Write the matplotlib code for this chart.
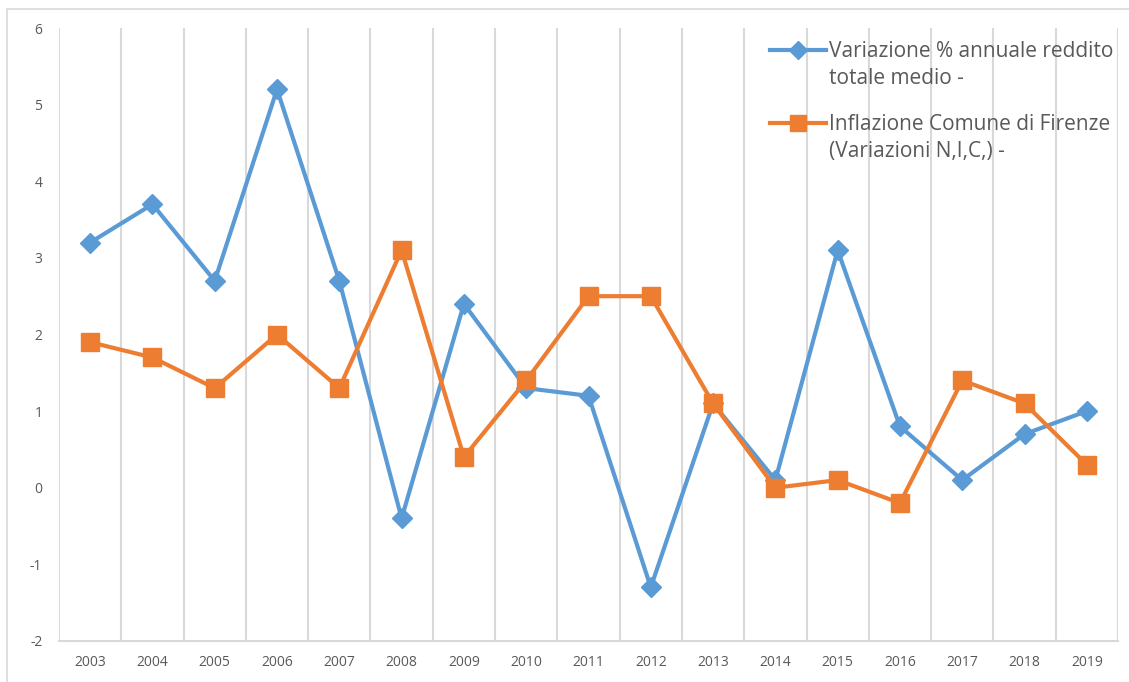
import matplotlib
matplotlib.use("Agg")
import matplotlib.pyplot as plt
from matplotlib.patches import Rectangle
from matplotlib.lines import Line2D

years = ["2003", "2004", "2005", "2006", "2007", "2008", "2009", "2010", "2011",
         "2012", "2013", "2014", "2015", "2016", "2017", "2018", "2019"]
reddito = [3.2, 3.7, 2.7, 5.2, 2.7, -0.4, 2.4, 1.3, 1.2, -1.3, 1.1, 0.1, 3.1, 0.8, 0.1, 0.7, 1.0]
inflazione = [1.9, 1.7, 1.3, 2.0, 1.3, 3.1, 0.4, 1.4, 2.5, 2.5, 1.1, 0.0, 0.1, -0.2, 1.4, 1.1, 0.3]
label_reddito = "Variazione % annuale reddito\ntotale medio -"
label_inflazione = "Inflazione Comune di Firenze\n(Variazioni N,I,C,) -"
yticks = [-2, -1, 0, 1, 2, 3, 4, 5, 6]

plt.rcParams['font.family'] = ['Open Sans', 'DejaVu Sans']
txt = "#595959"
grid = "#D9D9D9"
blue = "#5B9BD5"
orange = "#ED7D31"

W, H = 1129, 682
fig = plt.figure(figsize=(W / 100, H / 100), dpi=100)
fig.patches.append(Rectangle((7 / W, -0.01), 1.02, 1 - 9 / H + 0.01, transform=fig.transFigure,
                             fill=False, edgecolor=grid, linewidth=1.2))
ax = fig.add_axes([59 / W, 1 - 641 / H, (1118 - 59) / W, (641 - 28) / H])

x = list(range(len(years)))
for b in range(len(years) + 1):
    ax.axvline(b - 0.5, color=grid, linewidth=1.5, zorder=0)

series = [(reddito, blue, "D", 10.5, label_reddito, 3),
          (inflazione, orange, "s", 12.5, label_inflazione, 4)]
for vals, col, mk, ms, lab, z in series:
    ax.plot(x, vals, color=col, linewidth=3.0, marker=mk, markersize=ms, label=lab, zorder=z)

ax.set_xlim(-0.5, len(years) - 0.5)
ax.set_ylim(-2, 6)
ax.set_yticks(yticks)
ax.set_yticklabels([str(v) for v in yticks])
ax.set_xticks(x)
ax.set_xticklabels(years)
for s in ["top", "right", "left"]:
    ax.spines[s].set_visible(False)
ax.spines["bottom"].set_color(grid)
ax.spines["bottom"].set_linewidth(1.5)
ax.tick_params(axis="both", length=0, colors=txt, labelsize=10)
ax.tick_params(axis="y", pad=12)
ax.tick_params(axis="x", pad=10)

# legend (handle aligned with the first line of each label)
legend_rows = [50, 123]  # pixel rows of the handles from the top
for (vals, col, mk, ms, lab, z), yrow in zip(series, legend_rows):
    yf = 1 - yrow / H
    fig.add_artist(Line2D([770 / W, 826 / W], [yf, yf], transform=fig.transFigure,
                          color=col, linewidth=3.0))
    fig.add_artist(Line2D([798 / W], [yf], transform=fig.transFigure, color=col,
                          marker=mk, markersize=ms * 0.9, linestyle="none"))
    fig.text(829 / W, 1 - (yrow + 6 + 28) / H, lab, color=txt, fontsize=15,
             ha="left", va="baseline", linespacing=1.38)

fig.savefig("out.png", dpi=100, facecolor="white")
